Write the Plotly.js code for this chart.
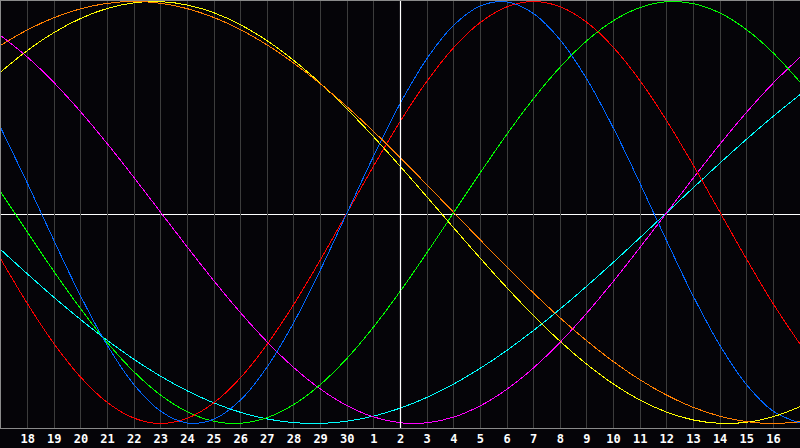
<!DOCTYPE html>
<html><head><meta charset="utf-8">
<script src="https://cdn.plot.ly/plotly-3.0.1.min.js"></script>
<style>
html,body{margin:0;padding:0;background:#050408;overflow:hidden}
#chart{width:800px;height:448px}
.scatterlayer path.js-line{shape-rendering:crispEdges}
</style></head><body><div id="chart"></div><script>
// day labels for each column (index 0..30)
const dayLabels = ['17','18','19','20','21','22','23','24','25','26','27','28','29','30','1','2','3','4','5','6','7','8','9','10','11','12','13','14','15','16','17'];
const todayIndex = 15; // day 2

// cycle values read per day
const physical = [0.3984,0.1362,-0.1362,-0.3984,-0.6311,-0.8170,-0.9423,-0.9977,-0.9791,-0.8879,-0.7308,-0.5196,-0.2698,0,0.2698,0.5196,0.7308,0.8879,0.9791,0.9977,0.9423,0.8170,0.6311,0.3984,0.1362,-0.1362,-0.3984,-0.6311,-0.8170,-0.9423,-0.9977];
const emotional = [-0.2225,-0.4339,-0.6235,-0.7818,-0.9010,-0.9749,-1,-0.9749,-0.9010,-0.7818,-0.6235,-0.4339,-0.2225,0,0.2225,0.4339,0.6235,0.7818,0.9010,0.9749,1,0.9749,0.9010,0.7818,0.6235,0.4339,0.2225,0,-0.2225,-0.4339,-0.6235];
const intellectual = [0.0951,-0.0951,-0.2817,-0.4582,-0.6182,-0.7557,-0.8660,-0.9450,-0.9898,-0.9989,-0.9718,-0.9096,-0.8146,-0.6901,-0.5406,-0.3717,-0.1893,0,0.1893,0.3717,0.5406,0.6901,0.8146,0.9096,0.9718,0.9989,0.9898,0.9450,0.8660,0.7557,0.6182];
const intuitive = [0.8372,0.7357,0.6142,0.4759,0.3247,0.1646,0,-0.1646,-0.3247,-0.4759,-0.6142,-0.7357,-0.8372,-0.9158,-0.9694,-0.9966,-0.9966,-0.9694,-0.9158,-0.8372,-0.7357,-0.6142,-0.4759,-0.3247,-0.1646,0,0.1646,0.3247,0.4759,0.6142,0.7357];
const aesthetic = [0.6673,0.7687,0.8536,0.9203,0.9675,0.9940,0.9993,0.9834,0.9464,0.8893,0.8133,0.7199,0.6112,0.4894,0.3572,0.2174,0.0730,-0.0730,-0.2174,-0.3572,-0.4894,-0.6112,-0.7199,-0.8133,-0.8893,-0.9464,-0.9834,-0.9993,-0.9940,-0.9675,-0.9203];
const awareness = [0.7934,0.8660,0.9239,0.9659,0.9914,1,0.9914,0.9659,0.9239,0.8660,0.7934,0.7071,0.6088,0.5,0.3827,0.2588,0.1305,0,-0.1305,-0.2588,-0.3827,-0.5,-0.6088,-0.7071,-0.7934,-0.8660,-0.9239,-0.9659,-0.9914,-1,-0.9914];
const spiritual = [-0.1769,-0.2921,-0.4031,-0.5085,-0.6068,-0.6966,-0.7765,-0.8456,-0.9028,-0.9473,-0.9786,-0.9960,-0.9996,-0.9890,-0.9646,-0.9267,-0.8757,-0.8125,-0.7378,-0.6528,-0.5586,-0.4566,-0.3482,-0.2349,-0.1183,0,0.1183,0.2349,0.3482,0.4566,0.5586];

const seriesNames = ['Spiritual','Intuitive','Intellectual','Emotional','Physical','Aesthetic','Awareness'];
const seriesData = [spiritual, intuitive, intellectual, emotional, physical, aesthetic, awareness];
const seriesColors = ['#00ffff','#ff00ff','#00ff00','#ff0000','#0066ff','#ffff00','#ff7f00'];

const xIdx = dayLabels.map((d, i) => i);
const traces = seriesData.map((ys, k) => ({
  type: 'scatter', mode: 'lines', name: seriesNames[k],
  x: xIdx, y: ys,
  line: {color: seriesColors[k], width: 1, shape: 'spline', smoothing: 1},
  hoverinfo: 'skip'
}));

const tickIdx = xIdx.slice(1, dayLabels.length - 1);
const tickTxt = dayLabels.slice(1, dayLabels.length - 1);

const layout = {
  width: 800, height: 448,
  margin: {l: 1, r: 0, t: 1, b: 20, pad: 0},
  paper_bgcolor: '#050408', plot_bgcolor: '#050408',
  showlegend: false,
  xaxis: {
    range: [0, dayLabels.length - 1], tickmode: 'array', tickvals: tickIdx, ticktext: tickTxt,
    showgrid: true, gridcolor: '#3c3c3c', gridwidth: 1, zeroline: false,
    showline: true, linecolor: '#8a8a8a', linewidth: 1, mirror: true, ticks: '',
    tickfont: {family: 'DejaVu Sans Mono', size: 12, color: '#ffffff', weight: 'bold'},
    fixedrange: true
  },
  yaxis: {
    range: [-1.0213, 1.0024], showgrid: false, zeroline: false, showticklabels: false,
    showline: true, linecolor: '#8a8a8a', linewidth: 1, mirror: true, ticks: '', fixedrange: true
  },
  shapes: [
    {type: 'line', xref: 'x', yref: 'paper', x0: todayIndex, x1: todayIndex, y0: 0, y1: 1, line: {color: '#ffffff', width: 1.2}, layer: 'above'},
    {type: 'line', xref: 'paper', yref: 'paper', x0: 0, x1: 1, y0: 0.5, y1: 0.5, line: {color: '#ffffff', width: 1}, layer: 'between'}
  ]
};

Plotly.newPlot('chart', traces, layout, {staticPlot: true, displayModeBar: false});
</script></body></html>
